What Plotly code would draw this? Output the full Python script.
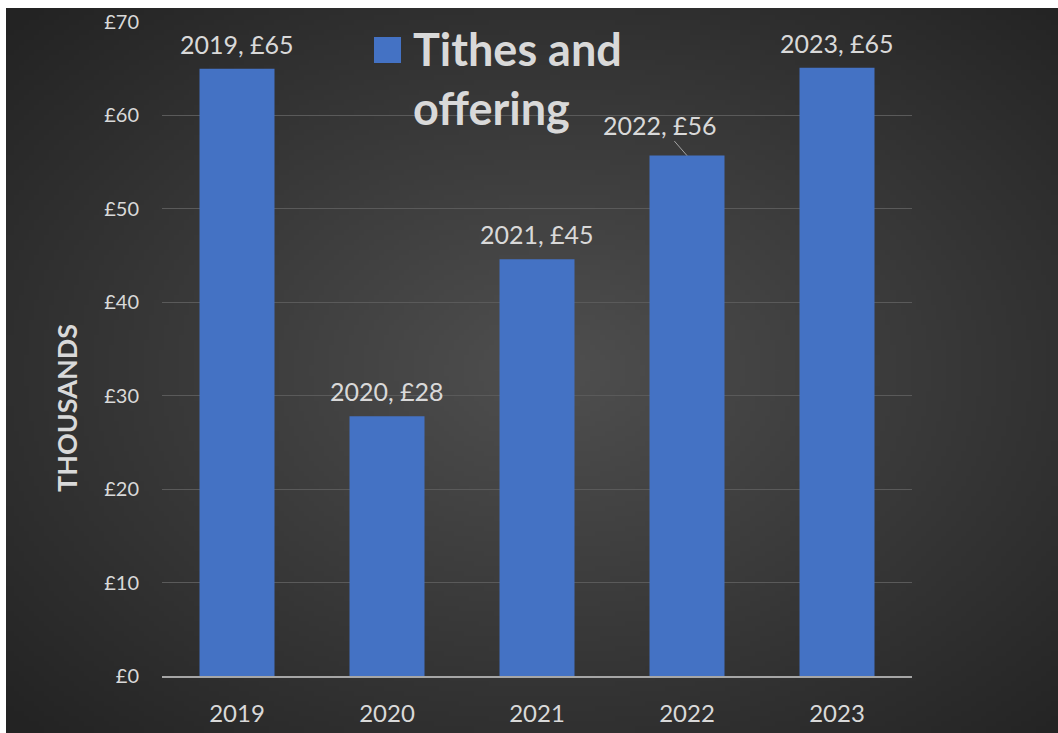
import base64, struct, zlib
import plotly.graph_objects as go

# ---- data ----
years = ["2019", "2020", "2021", "2022", "2023"]
values = [65.0, 27.8, 44.6, 55.7, 65.1]
series_name = "Tithes and offering"
y_ticks = [0, 10, 20, 30, 40, 50, 60, 70]
y_tick_labels = ["£0", "£10", "£20", "£30", "£40", "£50", "£60", "£70"]
y_title = "THOUSANDS"

W, H = 1058, 733
L, R, T, B = 162, 1058 - 912, 22, 733 - 676
PW, PH = W - L - R, H - T - B

def px_x(px):          # page pixel -> paper x
    return (px - L) / PW

def px_y(py):          # page pixel -> paper y
    return (H - B - py) / PH

# ---- radial gradient background as a small PNG ----
def make_png(w, h, cx, cy):
    rows = []
    for j in range(h):
        row = bytearray([0])
        for i in range(w):
            dx = (i / (w - 1) - cx) / 0.5
            dy = (j / (h - 1) - cy) / 0.5
            d = min(1.0, (dx * dx + dy * dy) ** 0.5 / 2 ** 0.5)
            v = int(round(0x4F - (0x4F - 0x23) * d))
            row.append(v)
        rows.append(bytes(row))
    raw = b"".join(rows)
    def chunk(tag, data):
        c = struct.pack(">I", len(data)) + tag + data
        return c + struct.pack(">I", zlib.crc32(tag + data) & 0xFFFFFFFF)
    png = b"\x89PNG\r\n\x1a\n"
    png += chunk(b"IHDR", struct.pack(">IIBBBBB", w, h, 8, 0, 0, 0, 0))
    png += chunk(b"IDAT", zlib.compress(raw, 9))
    png += chunk(b"IEND", b"")
    return "data:image/png;base64," + base64.b64encode(png).decode()

bg = make_png(210, 145, 0.52, 0.50)

TXT = "#d9d9d9"
FONT = "Lato"
BLUE = "#4472C4"

fig = go.Figure()
fig.add_trace(go.Bar(
    x=years, y=values, name=series_name,
    marker=dict(color=BLUE, line=dict(width=0)),
    width=0.5, showlegend=False, hoverinfo="x+y",
))

# data labels (x given as category index)
annotations = []
for i, (yr, v) in enumerate(zip(years, values)):
    label = f"{yr}, £{round(v)}"
    if yr == "2022":
        annotations.append(dict(
            x=i, y=v, xref="x", yref="y", text=label, showarrow=True,
            ax=-27, ay=-31, arrowhead=0, arrowwidth=1, arrowcolor="#a6a6a6",
            standoff=0, startstandoff=0,
            font=dict(family=FONT, size=25, color=TXT),
        ))
    else:
        annotations.append(dict(
            x=i, y=v, xref="x", yref="y", text=label, showarrow=False,
            yshift=25, yanchor="middle",
            font=dict(family=FONT, size=25, color=TXT),
        ))

# axis title
annotations.append(dict(
    x=px_x(67), y=px_y(408), xref="paper", yref="paper", text=y_title,
    textangle=-90, showarrow=False, xanchor="center", yanchor="middle",
    font=dict(family=FONT, size=27, color=TXT, weight="bold"),
))

# legend text
annotations.append(dict(
    x=px_x(411), y=px_y(20), xref="paper", yref="paper",
    text="Tithes and<br>offering", showarrow=False, align="left",
    xanchor="left", yanchor="top",
    font=dict(family=FONT, size=45, color=TXT, weight="bold"),
))

shapes = [
    dict(type="rect", xref="paper", yref="paper",
         x0=px_x(374), x1=px_x(401), y0=px_y(63), y1=px_y(37),
         fillcolor=BLUE, line=dict(width=0)),
]

fig.update_layout(
    width=W, height=H,
    margin=dict(l=L, r=R, t=T, b=B, pad=0, autoexpand=False),
    paper_bgcolor="white",
    plot_bgcolor="rgba(0,0,0,0)",
    bargap=0.5,
    annotations=annotations,
    shapes=shapes,
    images=[dict(
        source=bg, xref="paper", yref="paper",
        x=px_x(6), y=px_y(8), sizex=(W - 6) / PW, sizey=(H - 8) / PH,
        xanchor="left", yanchor="top", sizing="stretch", layer="below",
    )],
    xaxis=dict(
        type="category", automargin=False,
        showgrid=False, showline=True, linecolor="#a6a6a6", linewidth=1.5,
        ticks="", tickfont=dict(family=FONT, size=24, color=TXT),
        ticklabelstandoff=15, zeroline=False,
    ),
    yaxis=dict(
        automargin=False,
        range=[0, 70], tickvals=y_ticks, ticktext=y_tick_labels,
        showgrid=True, gridcolor="#5a5a5a", gridwidth=1,
        zeroline=False, showline=False, ticks="",
        tickfont=dict(family=FONT, size=20, color=TXT),
        ticklabelstandoff=22,
    ),
)

fig.write_html("out.html", config={"displayModeBar": False},
               post_script="document.body.style.margin='0';")
